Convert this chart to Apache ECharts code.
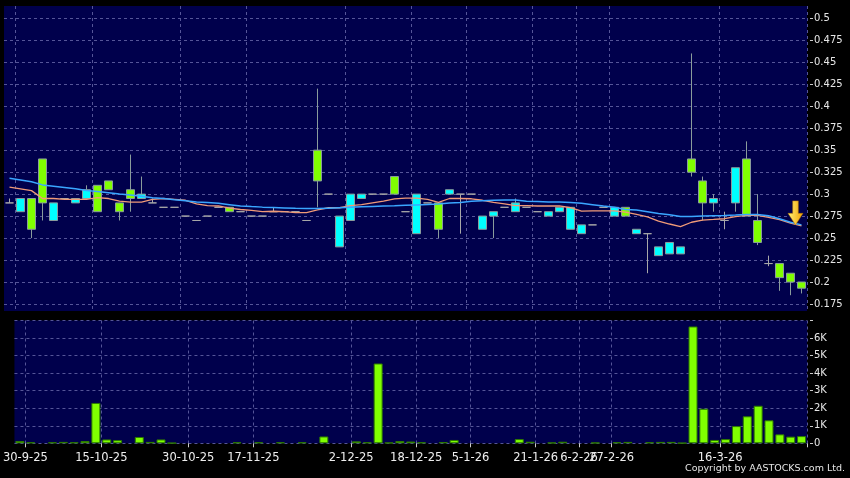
<!DOCTYPE html>
<html><head><meta charset="utf-8">
<script src="https://cdn.jsdelivr.net/npm/echarts@6/dist/echarts.min.js"></script>
<style>html,body{margin:0;padding:0;background:#000;}#c{width:850px;height:478px;}</style>
</head><body><div id="c"></div>
<script>
// ---- data ----
const opens = [0.29,0.28,0.295,0.34,0.27,0.295,0.29,0.295,0.31,0.315,
 0.29,0.305,0.295,0.29,0.285,0.285,0.275,0.27,0.275,0.285,
 0.285,0.28,0.275,0.275,0.28,0.28,0.28,0.27,0.35,0.30,
 0.24,0.27,0.295,0.30,0.30,0.32,0.28,0.255,0.29,0.29,
 0.30,0.30,0.30,0.26,0.275,0.285,0.28,0.285,0.28,0.275,
 0.28,0.26,0.255,0.265,0.285,0.275,0.285,0.255,0.255,0.23,
 0.232,0.232,0.34,0.315,0.29,0.27,0.29,0.34,0.27,0.221,
 0.221,0.21,0.20];
const closes = [0.29,0.295,0.26,0.29,0.29,0.295,0.295,0.305,0.28,0.305,
 0.28,0.295,0.30,0.29,0.285,0.285,0.275,0.27,0.275,0.285,
 0.28,0.28,0.275,0.275,0.28,0.28,0.28,0.27,0.315,0.30,
 0.275,0.30,0.30,0.30,0.30,0.30,0.28,0.30,0.29,0.26,
 0.305,0.30,0.30,0.275,0.28,0.285,0.29,0.285,0.28,0.28,
 0.285,0.285,0.265,0.265,0.285,0.285,0.275,0.26,0.255,0.24,
 0.245,0.24,0.325,0.29,0.295,0.27,0.33,0.275,0.245,0.221,
 0.205,0.20,0.193];
const lows = [0.29,0.28,0.25,0.27,0.27,0.295,0.29,0.295,0.28,0.305,
 0.27,0.28,0.295,0.29,0.285,0.285,0.275,0.27,0.275,0.285,
 0.28,0.28,0.275,0.275,0.28,0.28,0.28,0.27,0.285,0.30,
 0.24,0.27,0.295,0.30,0.30,0.30,0.28,0.255,0.29,0.25,
 0.30,0.255,0.30,0.26,0.25,0.285,0.28,0.285,0.28,0.275,
 0.28,0.26,0.255,0.265,0.285,0.275,0.275,0.255,0.21,0.23,
 0.232,0.232,0.32,0.27,0.28,0.26,0.28,0.275,0.242,0.218,
 0.19,0.185,0.187];
const highs = [0.295,0.295,0.295,0.34,0.29,0.295,0.295,0.31,0.31,0.315,
 0.29,0.345,0.32,0.295,0.285,0.285,0.275,0.27,0.275,0.285,
 0.285,0.28,0.275,0.275,0.285,0.28,0.28,0.27,0.42,0.30,
 0.275,0.30,0.30,0.30,0.30,0.32,0.28,0.30,0.29,0.29,
 0.305,0.30,0.30,0.275,0.28,0.285,0.295,0.285,0.28,0.28,
 0.285,0.285,0.265,0.265,0.285,0.285,0.285,0.26,0.255,0.24,
 0.245,0.24,0.46,0.32,0.30,0.28,0.33,0.36,0.30,0.23,
 0.221,0.21,0.20];
const volumes = [130,60,0,60,80,60,130,2300,220,180,
 0,360,80,220,20,0,0,0,0,0,
 60,0,60,0,60,0,60,0,390,0,
 0,110,60,4550,40,130,100,60,0,70,
 190,0,0,0,0,0,240,90,0,40,
 90,0,0,40,0,60,80,0,60,80,
 80,20,6660,1970,190,240,980,1540,2140,1310,
 510,380,410];
const ma10 = [0.308,0.306,0.304,0.295,0.295,0.294,0.294,0.294,0.296,0.295,
 0.292,0.291,0.291,0.294,0.295,0.294,0.293,0.289,0.287,0.2865,
 0.284,0.2825,0.2815,0.280,0.2805,0.280,0.279,0.279,0.282,0.2845,
 0.2845,0.287,0.288,0.290,0.292,0.2945,0.2955,0.2955,0.294,0.2905,
 0.295,0.295,0.2947,0.293,0.2905,0.289,0.287,0.287,0.2865,0.2865,
 0.2865,0.2845,0.2807,0.281,0.281,0.281,0.2795,0.277,0.274,0.2693,
 0.266,0.263,0.268,0.2705,0.2712,0.272,0.2745,0.2758,0.2758,0.2735,
 0.271,0.267,0.264];
const ma20 = [0.318,0.316,0.314,0.3105,0.309,0.3075,0.306,0.304,0.303,0.3015,
 0.300,0.299,0.2975,0.296,0.295,0.2935,0.2925,0.291,0.2905,0.2895,
 0.288,0.2865,0.2858,0.2852,0.2848,0.2843,0.2838,0.2835,0.2835,0.284,
 0.2845,0.285,0.2855,0.286,0.2864,0.2867,0.2872,0.2877,0.2882,0.2888,
 0.290,0.2905,0.292,0.2925,0.293,0.2932,0.2932,0.292,0.2915,0.291,
 0.291,0.2905,0.2895,0.288,0.2864,0.285,0.2825,0.2818,0.280,0.278,
 0.2765,0.2745,0.2745,0.275,0.2755,0.2758,0.2762,0.2769,0.2769,0.2755,
 0.272,0.268,0.265];
const tickLabels = ['30-9-25','15-10-25','30-10-25','17-11-25','2-12-25','18-12-25','5-1-26','21-1-26','6-2-26','27-2-26','16-3-26'];
const tickIndex = [0,7,15,21,30,36,41,47,51,54,64];
const priceMin = 0.175, priceMax = 0.5, priceStep = 0.025;
const volMax = 7000, volStep = 1000;

// ---- chart ----
const cats = closes.map((_, i) => String(i));
const labelAt = {};
tickIndex.forEach((idx, k) => { labelAt[idx] = tickLabels[k]; });
const gridAt = new Set(tickIndex.map(i => i + 1));
const FONT = 'DejaVu Sans';
const NAVY = '#00004c';
const GRIDC = '#555598';
const dashed = { color: GRIDC, type: [3, 3], width: 1 };

const chart = echarts.init(document.getElementById('c'), null, { renderer: 'canvas' });
const bgX = (gi) => ({
  type: 'category', data: cats, gridIndex: gi, boundaryGap: true,
  axisLine: { show: false }, axisTick: { show: false }, axisLabel: { show: false },
  splitLine: { show: true, interval: (i) => gridAt.has(i), lineStyle: dashed }
});
const volX = bgX(2);
volX.axisTick = { show: true, interval: (i) => gridAt.has(i), length: 4, lineStyle: { color: '#cccccc' } };
volX.axisLabel = {
  show: true, interval: (i) => labelAt[i] !== undefined,
  formatter: (v, i) => labelAt[i] || '',
  color: '#eeeeee', fontSize: 11.5, fontFamily: FONT, margin: 9, padding: [0, 0, 0, 11]
};

const yStyle = (fmt) => ({
  position: 'right', offset: 3,
  axisLine: { show: false },
  axisTick: { show: true, length: 3, lineStyle: { color: '#cccccc' } },
  axisLabel: { color: '#e6e6e6', fontSize: 10, fontFamily: FONT, margin: 4, formatter: fmt },
  splitLine: { show: true, lineStyle: dashed }
});

const option = {
  backgroundColor: '#000000',
  animation: false,
  grid: [
    { left: 4, top: 6, width: 803, height: 305, show: true, backgroundColor: NAVY, borderWidth: 0 },
    { left: 4, top: 18.3, width: 803, height: 285.7 },
    { left: 4, top: 320.5, width: 803, height: 122.8, show: true, backgroundColor: NAVY, borderWidth: 0 }
  ],
  xAxis: [
    bgX(0),
    { type: 'category', data: cats, gridIndex: 1, boundaryGap: true, show: false },
    volX
  ],
  yAxis: [
    { type: 'value', gridIndex: 0, min: 0, max: 1, show: false },
    Object.assign({ type: 'value', gridIndex: 1, min: priceMin, max: priceMax, interval: priceStep },
      yStyle(v => String(+v.toFixed(3)))),
    Object.assign({ type: 'value', gridIndex: 2, min: 0, max: volMax, interval: volStep, showMaxLabel: false },
      yStyle(v => v === 0 ? '0' : (v >= volMax ? '' : (v / 1000) + 'K')))
  ],
  series: [
    {
      type: 'candlestick', xAxisIndex: 1, yAxisIndex: 1, barWidth: 9,
      data: opens.map((o, i) => [o, closes[i], lows[i], highs[i]]),
      itemStyle: {
        color: '#00ffff', color0: '#80ff00',
        borderColor: '#8a9c9c', borderColor0: '#8a9c9c', borderColorDoji: '#a8a8a8', borderWidth: 1
      }
    },
    {
      type: 'line', xAxisIndex: 1, yAxisIndex: 1, data: ma10, symbol: 'none',
      lineStyle: { color: '#f09a78', width: 1.3 }
    },
    {
      type: 'line', xAxisIndex: 1, yAxisIndex: 1, data: ma20, symbol: 'none',
      lineStyle: { color: '#3aa6ff', width: 1.5 },
      markPoint: {
        symbol: 'path://M5,0 L11,0 L11,13 L16,13 L8,25 L0,13 L5,13 Z',
        symbolSize: [15, 24],
        symbolOffset: [-6, -12],
        label: { show: false },
        itemStyle: {
          color: new echarts.graphic.LinearGradient(0, 0, 1, 0, [
            { offset: 0, color: '#fff27a' }, { offset: 1, color: '#f0a000' }
          ]),
          borderColor: '#b07000', borderWidth: 0.5
        },
        data: [{ coord: [closes.length - 1, ma20[ma20.length - 1]] }]
      }
    },
    {
      type: 'bar', xAxisIndex: 2, yAxisIndex: 2, barWidth: 9,
      data: volumes.map(v => v > 0 ? v : '-'),
      itemStyle: { color: '#80ff00', borderColor: '#2d7a00', borderWidth: 1 }
    }
  ],
  graphic: [
    {
      type: 'text', right: 5, top: 464,
      style: { text: 'Copyright by AASTOCKS.com Ltd.', fill: '#e6e6e6', font: '9.5px "DejaVu Sans"' }
    }
  ]
};
chart.setOption(option);
</script>
</body></html>
